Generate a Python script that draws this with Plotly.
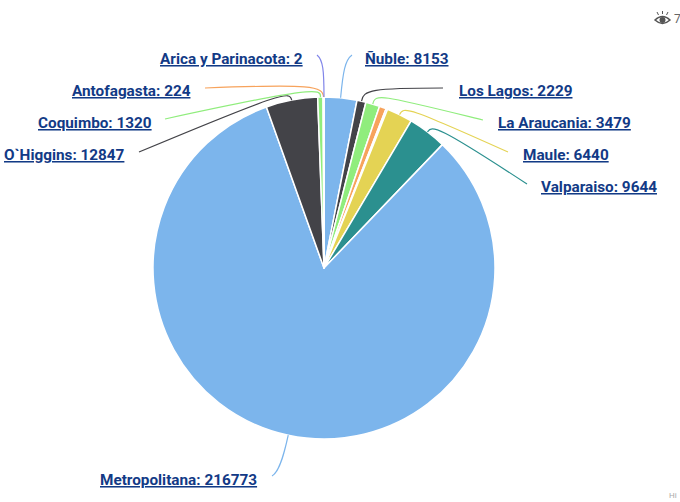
import math
import plotly.graph_objects as go

W, H = 680, 502
CX, CY, R = 324, 268, 171

# clockwise from the top; blank names are the slices that carry no label in the picture
regions = ["Ñuble", "Los Lagos", "La Araucania", "", "", "Maule", "Valparaiso",
           "Metropolitana", "O`Higgins", "Coquimbo", "Antofagasta", "Arica y Parinacota"]
values = [8153, 2229, 3479, 1700, 400, 6440, 9644, 216773, 12847, 1320, 224, 2]
colors = ["#7cb5ec", "#434348", "#90ed7d", "#f7a35c", "#8085e9", "#e4d354", "#2b908f",
          "#7cb5ec", "#434348", "#90ed7d", "#f7a35c", "#8085e9"]

# label placement: anchor x, centre y, horizontal anchor
label_pos = {
    "Ñuble": (363, 59, "left"),
    "Los Lagos": (457, 91, "left"),
    "La Araucania": (496, 123, "left"),
    "Maule": (521, 155, "left"),
    "Valparaiso": (539, 187, "left"),
    "Metropolitana": (98, 480, "left"),
    "O`Higgins": (127, 155, "right"),
    "Coquimbo": (154, 123, "right"),
    "Antofagasta": (193, 91, "right"),
    "Arica y Parinacota": (305, 59, "right"),
}
# leader routing: control points, then end
leader_route = {
    "Ñuble": [(343, 72), (345, 60), (352, 55)],
    "Los Lagos": [(363, 90), (372, 88), (443, 88)],
    "La Araucania": [(375, 93), (381, 95), (483, 120)],
    "Maule": [(403, 106), (408, 107), (508, 152)],
    "Valparaiso": [(432, 125), (437, 125), (527, 184)],
    "Metropolitana": [(285, 450), (280, 472), (272, 476)],
    "O`Higgins": [(290, 91), (285, 91), (139, 152)],
    "Coquimbo": [(322, 88), (312, 87), (165, 119)],
    "Antofagasta": [(323, 86), (312, 84), (205, 88)],
    "Arica y Parinacota": [(324, 70), (323, 60), (317, 55)],
}

fig = go.Figure(go.Pie(
    labels=[r or f"slice{i}" for i, r in enumerate(regions)],
    values=values,
    sort=False,
    direction="clockwise",
    rotation=0,
    textinfo="none",
    hoverinfo="label+value",
    marker=dict(colors=colors, line=dict(color="#ffffff", width=1.5)),
    domain=dict(x=[(CX - R) / W, (CX + R) / W], y=[(H - CY - R) / H, (H - CY + R) / H]),
    showlegend=False,
))


def px(x):
    return x / W


def py(y):
    return 1 - y / H


shapes, annotations = [], []
total = sum(values)
cum = 0
for name, val, col in zip(regions, values, colors):
    mid = (cum + val / 2) / total * 2 * math.pi
    cum += val
    if not name:
        continue
    sx, sy = CX + R * math.sin(mid), CY - R * math.cos(mid)
    c1, c2, end = leader_route[name]
    path = (f"M {px(sx):.5f} {py(sy):.5f} "
            f"C {px(c1[0]):.5f} {py(c1[1]):.5f} {px(c2[0]):.5f} {py(c2[1]):.5f} "
            f"{px(end[0]):.5f} {py(end[1]):.5f}")
    shapes.append(dict(type="path", xref="paper", yref="paper", path=path,
                       line=dict(color=col, width=1.2), layer="above"))
    lx, ly, anchor = label_pos[name]
    annotations.append(dict(
        x=px(lx), y=py(ly), xref="paper", yref="paper", xanchor=anchor, yanchor="middle",
        text=f"<b><u>{name}: {val}</u></b>", showarrow=False,
        font=dict(family="Roboto", size=15.3, color="#123a86"),
    ))

# view counter, top right, and faint text, bottom right
annotations.append(dict(x=px(672), y=py(19), xref="paper", yref="paper", xanchor="left",
                        yanchor="middle", text="7", showarrow=False,
                        font=dict(family="Roboto", size=12, color="#666666")))
annotations.append(dict(x=px(667), y=py(495), xref="paper", yref="paper", xanchor="left",
                        yanchor="middle", text="Hi", showarrow=False,
                        font=dict(family="Roboto", size=8, color="#aaaaaa")))
eye = "M {} {} Q {} {} {} {} Q {} {} {} {} Z".format(
    px(655), py(20), px(662.5), py(13), px(670), py(20), px(662.5), py(27), px(655), py(20))
shapes.append(dict(type="path", xref="paper", yref="paper", path=eye,
                   line=dict(color="#555555", width=1.5), fillcolor="rgba(0,0,0,0)"))
shapes.append(dict(type="circle", xref="paper", yref="paper",
                   x0=px(659.5), x1=px(665.5), y0=py(23), y1=py(17),
                   fillcolor="#555555", line=dict(width=0)))
# eyelashes
for x0, y0, x1, y1 in [(657, 12, 658.5, 15), (662.5, 11, 662.5, 14), (668, 12, 666.5, 15)]:
    shapes.append(dict(type="line", xref="paper", yref="paper",
                       x0=px(x0), y0=py(y0), x1=px(x1), y1=py(y1),
                       line=dict(color="#555555", width=1)))

fig.update_layout(width=W, height=H, margin=dict(l=0, r=0, t=0, b=0),
                  paper_bgcolor="#ffffff", shapes=shapes, annotations=annotations)
fig.write_html("out.html", config={"displayModeBar": False},
               post_script="document.body.style.margin='0';")
